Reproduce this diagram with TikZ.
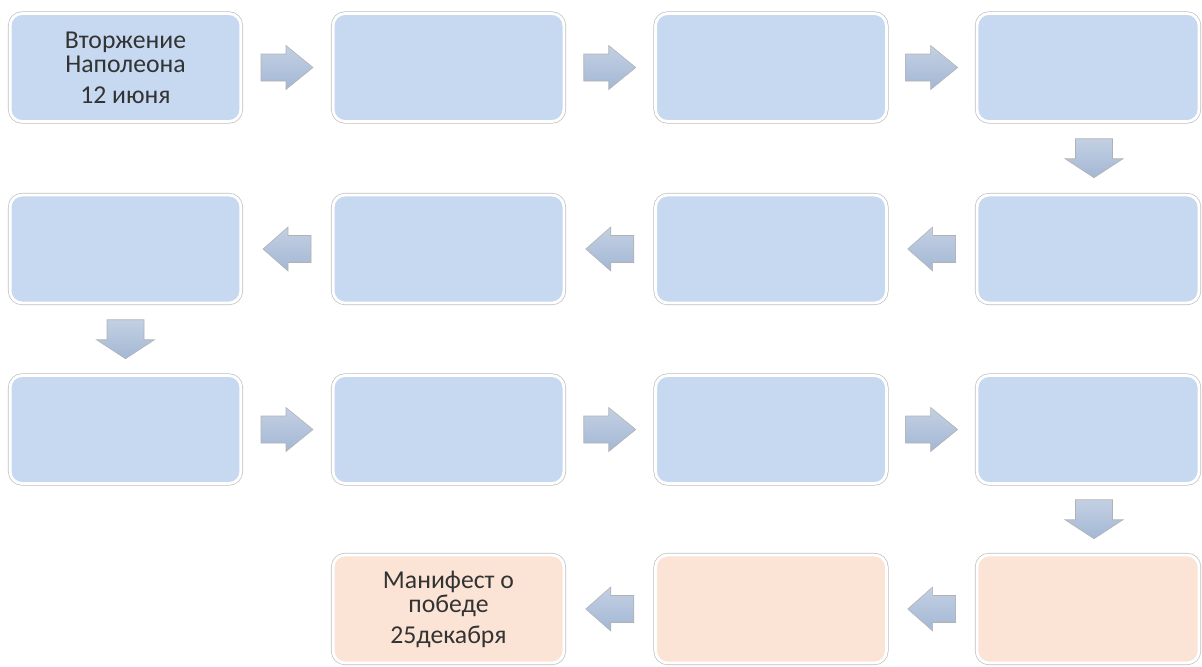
\documentclass[tikz,border=0pt]{standalone}
\usepackage{fontspec}
\setmainfont{Carlito}
\usepackage{xcolor}
\usepackage{tikz}
\usetikzlibrary{calc}

\definecolor{boxblue}{HTML}{C6D9F1}
\definecolor{boxpeach}{HTML}{FBE4D5}
\definecolor{arrowblue}{HTML}{A3B7D4}

% block arrows, drawn round their centre
\tikzset{
    blockarrow/.style={draw=black!30, line width=0.4pt, top color=arrowblue!65!white, bottom color=arrowblue},
    rblock/.pic={\path[blockarrow] (-0.65, -0.3375) -- (-0.025, -0.3375) -- (-0.025, -0.55) -- (0.65, 0) -- (-0.025, 0.55) -- (-0.025, 0.3375) -- (-0.65, 0.3375) -- cycle;},
    lblock/.pic={\path[blockarrow] (0.6, -0.3375) -- (0.025, -0.3375) -- (0.025, -0.55) -- (-0.6, 0) -- (0.025, 0.55) -- (0.025, 0.3375) -- (0.6, 0.3375) -- cycle;},
    dblock/.pic={\path[blockarrow] (-0.4625, 0.4875) -- (0.4625, 0.4875) -- (0.4625, -0.0125) -- (0.725, -0.0125) -- (0, -0.4875) -- (-0.725, -0.0125) -- (-0.4625, -0.0125) -- cycle;}
}

\begin{document}
\begin{tikzpicture}[
    event/.style={rectangle, rounded corners=0.3cm, fill=boxblue, draw=white, line width=2pt, preaction={draw=black!25, line width=3pt}, minimum width=5.77cm, minimum height=2.7cm, inner sep=0pt, align=center, text=black!80, font=\fontsize{18.3}{17}\selectfont},
    lastevent/.style={event, fill=boxpeach},
    narrowevent/.style={minimum width=5.55cm}
]
    \useasboundingbox (0, 0) rectangle (30.05, -16.65);

    % Row 1 (left to right)
    \node[event] (E1) at (3.1375, -1.6875) {Вторжение\\Наполеона\\[5pt]12 июня};
    \node[event] (E2) at (11.2125, -1.6875) {};
    \node[event] (E3) at (19.275, -1.6875) {};
    \node[event, narrowevent] (E4) at (27.2, -1.6875) {};

    % Row 2 (right to left)
    \node[event, narrowevent] (E5) at (27.2, -6.225) {};
    \node[event] (E6) at (19.275, -6.225) {};
    \node[event] (E7) at (11.2125, -6.225) {};
    \node[event] (E8) at (3.1375, -6.225) {};

    % Row 3 (left to right)
    \node[event] (E9) at (3.1375, -10.7375) {};
    \node[event] (E10) at (11.2125, -10.7375) {};
    \node[event] (E11) at (19.275, -10.7375) {};
    \node[event, narrowevent] (E12) at (27.2, -10.7375) {};

    % Row 4 (right to left)
    \node[lastevent, narrowevent] (E13) at (27.2, -15.225) {};
    \node[lastevent] (E14) at (19.275, -15.225) {};
    \node[lastevent] (E15) at (11.2125, -15.225) {Манифест о\\победе\\[5pt]25декабря};

    % Block arrows between the boxes
    \pic (A1) at ($(E1.east)!0.5!(E2.west)$) {rblock};
    \pic (A2) at ($(E2.east)!0.5!(E3.west)$) {rblock};
    \pic (A3) at ($(E3.east)!0.5!(E4.west)$) {rblock};
    \pic (A4) at ($(E4.south)!0.5!(E5.north) + (0.15, 0)$) {dblock};
    \pic (A5) at ($(E5.west)!0.5!(E6.east)$) {lblock};
    \pic (A6) at ($(E6.west)!0.5!(E7.east)$) {lblock};
    \pic (A7) at ($(E7.west)!0.5!(E8.east)$) {lblock};
    \pic (A8) at ($(E8.south)!0.5!(E9.north)$) {dblock};
    \pic (A9) at ($(E9.east)!0.5!(E10.west)$) {rblock};
    \pic (A10) at ($(E10.east)!0.5!(E11.west)$) {rblock};
    \pic (A11) at ($(E11.east)!0.5!(E12.west)$) {rblock};
    \pic (A12) at ($(E12.south)!0.5!(E13.north) + (0.15, 0)$) {dblock};
    \pic (A13) at ($(E13.west)!0.5!(E14.east)$) {lblock};
    \pic (A14) at ($(E14.west)!0.5!(E15.east)$) {lblock};
\end{tikzpicture}
\end{document}
